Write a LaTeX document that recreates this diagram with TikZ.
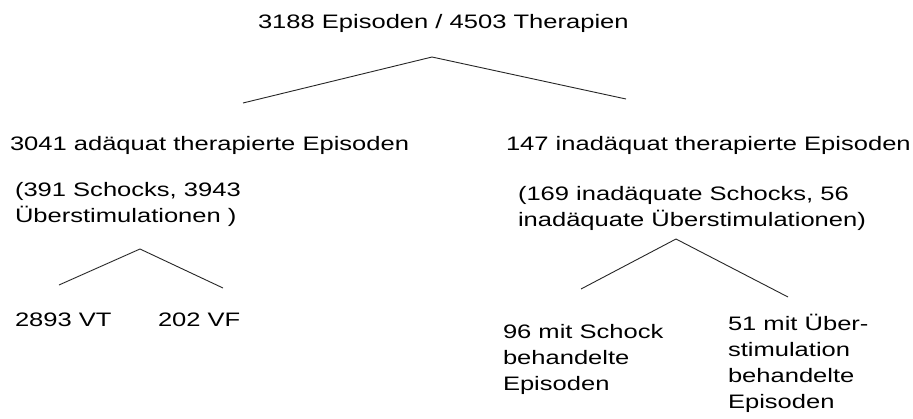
\documentclass[tikz,border=0pt]{standalone}
\usepackage{fontspec}
\setmainfont{Liberation Sans}[FakeStretch=1.31]
\begin{document}
\begin{tikzpicture}[x=1pt,y=-1pt,
  lbl/.style={anchor=base west,inner sep=0pt,outer sep=0pt,align=left,
    font=\fontsize{19.5}{26}\selectfont,text=black},
  branch/.style={line width=0.9pt,draw=black!85}]
\useasboundingbox[fill=white] (0,0) rectangle (913,418);
% texts (multi-line nodes: base = baseline of last line)
\node[lbl] (root) at (258,28) {3188 Episoden / 4503 Therapien};
\node[lbl] (ad) at (10,150) {3041 adäquat therapierte Episoden};
\node[lbl] (adx) at (15,222) {(391 Schocks, 3943\\Überstimulationen )};
\node[lbl] (inad) at (506,150) {147 inadäquat therapierte Episoden};
\node[lbl] (inadx) at (518,226) {(169 inadäquate Schocks, 56\\inadäquate Überstimulationen)};
\node[lbl] (vt) at (15,326) {2893 VT};
\node[lbl] (vf) at (158,326) {202 VF};
\node[lbl] (sch) at (503,390) {96 mit Schock\\behandelte\\Episoden};
\node[lbl] (ueb) at (728,408) {51 mit Über-\\stimulation\\behandelte\\Episoden};
% branch points
\coordinate (t0) at (432,57);
\coordinate (tl) at (243,103);
\coordinate (tr) at (626,99);
\coordinate (a0) at (140,249);
\coordinate (al) at (59,285);
\coordinate (ar) at (223,288);
\coordinate (b0) at (676,239);
\coordinate (bl) at (581,289);
\coordinate (br) at (788,297);
\draw[branch] (tl) -- (t0) -- (tr);
\draw[branch] (al) -- (a0) -- (ar);
\draw[branch] (bl) -- (b0) -- (br);
\end{tikzpicture}
\end{document}
